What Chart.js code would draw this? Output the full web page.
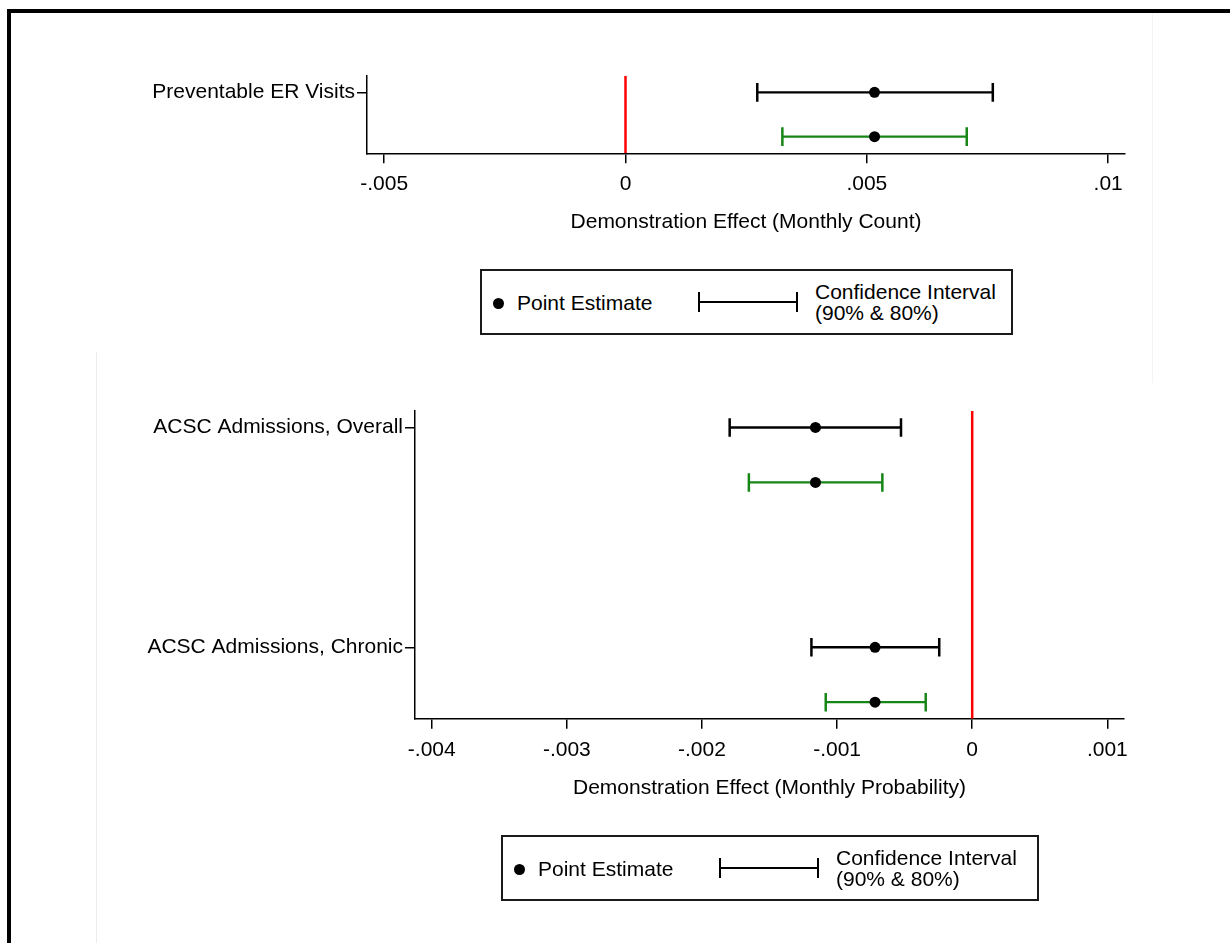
<!DOCTYPE html>
<html>
<head>
<meta charset="utf-8">
<script src="https://cdn.jsdelivr.net/npm/chart.js@4.4.1/dist/chart.umd.min.js"></script>
<style>
  html, body { margin: 0; padding: 0; background: #fff; }
  body { width: 1230px; height: 943px; position: relative; overflow: hidden;
         font-family: "Liberation Sans", Arial, sans-serif; color: #000; }
  canvas { position: absolute; left: 0; top: 0; }
  .frame { position: absolute; left: 7px; top: 9px; width: 1400px; height: 1100px;
           border-left: 4px solid #000; border-top: 4px solid #000; }
  .edge { position: absolute; width: 1px; }
  .legend { position: absolute; box-sizing: border-box; height: 66px;
            border: 2px solid #1a1a1a; background: #fff; font-size: 21px; }
  .legend .dot { position: absolute; left: 11px; top: 27px; width: 11px; height: 11px;
                 border-radius: 50%; background: #000; }
  .legend .pe { position: absolute; left: 35px; top: 1px; line-height: 62px; white-space: nowrap; }
  .legend .ci { position: absolute; left: 216px; top: 21px; width: 100px; height: 20px;
                box-sizing: border-box; border-left: 2px solid #000; border-right: 2px solid #000; }
  .legend .ci::after { content: ""; position: absolute; left: 0; right: 0; top: 9px; height: 2px; background: #000; }
  .legend .cit { position: absolute; left: 333px; top: 11px; line-height: 20.5px; white-space: nowrap; }
</style>
</head>
<body>
<div class="edge" style="left:1152px; top:13px; height:370px; background:#f3f3f3;"></div>
<div class="edge" style="left:96px; top:352px; height:591px; background:#ececec;"></div>

<canvas id="erChart" width="1230" height="943"></canvas>
<canvas id="acscChart" width="1230" height="943"></canvas>

<div class="legend" style="left:480px; top:269px; width:533px;">
  <span class="dot"></span><span class="pe">Point Estimate</span>
  <span class="ci"></span><span class="cit">Confidence Interval<br>(90% &amp; 80%)</span>
</div>
<div class="legend" style="left:501px; top:835px; width:538px;">
  <span class="dot"></span><span class="pe">Point Estimate</span>
  <span class="ci"></span><span class="cit">Confidence Interval<br>(90% &amp; 80%)</span>
</div>

<div class="frame"></div>

<script>
// ---- Preventable ER visits (monthly count) ----
const erOutcomes   = ['Preventable ER Visits'];
const erPoint      = [0.00516];
const erCI90Low    = [0.00273];
const erCI90High   = [0.00761];
const erCI80Low    = [0.00325];
const erCI80High   = [0.00707];
const erTicks      = [-0.005, 0, 0.005, 0.01];
const erTickLabels = ['-.005', '0', '.005', '.01'];

// ---- ACSC admissions (monthly probability) ----
const acscOutcomes   = ['ACSC Admissions, Overall', 'ACSC Admissions, Chronic'];
const acscPoint      = [-0.00116, -0.000719];
const acscCI90Low    = [-0.001795, -0.00119];
const acscCI90High   = [-0.000527, -0.000244];
const acscCI80Low    = [-0.001653, -0.001084];
const acscCI80High   = [-0.000665, -0.000344];
const acscTicks      = [-0.004, -0.003, -0.002, -0.001, 0, 0.001];
const acscTickLabels = ['-.004', '-.003', '-.002', '-.001', '0', '.001'];

const CI90_COLOR = '#000000';
const CI80_COLOR = '#168616';
const ZERO_COLOR = '#ff0000';
const FONT_SIZE = 21;

Chart.defaults.font.family = '"Liberation Sans", Arial, sans-serif';
Chart.defaults.font.size = FONT_SIZE;
Chart.defaults.color = '#000';

// Each outcome occupies a block of rows: 90% interval on its row, 80% interval one row below.
function buildDatasets(point, lo90, hi90, lo80, hi80, rowStep, yMin, yMax) {
  const sets = [];
  sets.push({
    data: point.map((v, i) => ({ x: v, y: i * rowStep })),
    pointStyle: 'circle', pointRadius: 5.5, pointBorderWidth: 0,
    backgroundColor: '#000', borderColor: '#000', showLine: false
  });
  sets.push({
    data: point.map((v, i) => ({ x: v, y: i * rowStep + 1 })),
    pointStyle: 'circle', pointRadius: 5.5, pointBorderWidth: 0,
    backgroundColor: '#000', borderColor: '#000', showLine: false
  });
  const ciStyle = (color) => ({
    showLine: true, borderColor: color, borderWidth: 2.3,
    pointStyle: 'line', pointRotation: 90, pointRadius: 9.3,
    pointBorderWidth: 2.5, pointBorderColor: color, backgroundColor: color
  });
  point.forEach((_, i) => {
    sets.push(Object.assign({
      data: [{ x: lo90[i], y: i * rowStep }, { x: hi90[i], y: i * rowStep }]
    }, ciStyle(CI90_COLOR)));
    sets.push(Object.assign({
      data: [{ x: lo80[i], y: i * rowStep + 1 }, { x: hi80[i], y: i * rowStep + 1 }]
    }, ciStyle(CI80_COLOR)));
  });
  // reference line at zero effect
  sets.push({
    data: [{ x: 0, y: yMin }, { x: 0, y: yMax }],
    showLine: true, borderColor: ZERO_COLOR, borderWidth: 2.5, pointRadius: 0
  });
  return sets;
}

function makeChart(id, cfg) {
  const rows = cfg.outcomes.map((_, i) => i * cfg.rowStep);
  return new Chart(document.getElementById(id), {
    type: 'scatter',
    data: {
      datasets: buildDatasets(cfg.point, cfg.lo90, cfg.hi90, cfg.lo80, cfg.hi80,
                              cfg.rowStep, cfg.yMin, cfg.yMax)
    },
    options: {
      responsive: false,
      animation: false,
      events: [],
      layout: { padding: cfg.padding },
      plugins: { legend: { display: false }, tooltip: { enabled: false } },
      scales: {
        x: {
          type: 'linear', position: 'bottom',
          min: cfg.xMin, max: cfg.xMax,
          afterBuildTicks: (s) => { s.ticks = cfg.ticks.map(v => ({ value: v })); },
          afterFit: (s) => { s.height = cfg.xHeight; },
          ticks: {
            autoSkip: false, maxRotation: 0, padding: 8.5,
            callback: (v, i) => cfg.tickLabels[i]
          },
          grid: { drawOnChartArea: false, drawTicks: true, tickLength: 10,
                  color: '#000', lineWidth: 1.5 },
          border: { display: true, color: '#000', width: 1.5 },
          title: { display: true, text: cfg.xTitle, padding: { top: 0, bottom: 0 },
                   font: { size: FONT_SIZE } }
        },
        y: {
          type: 'linear', position: 'left', reverse: true,
          min: cfg.yMin, max: cfg.yMax,
          afterBuildTicks: (s) => { s.ticks = rows.map(v => ({ value: v })); },
          afterFit: (s) => { s.width = cfg.yWidth; },
          ticks: { autoSkip: false, padding: 2, callback: (v, i) => cfg.outcomes[i] },
          grid: { drawOnChartArea: false, drawTicks: true, tickLength: 10,
                  color: '#000', lineWidth: 1.5 },
          border: { display: true, color: '#000', width: 1.5 }
        }
      }
    }
  });
}

makeChart('erChart', {
  outcomes: erOutcomes, point: erPoint,
  lo90: erCI90Low, hi90: erCI90High, lo80: erCI80Low, hi80: erCI80High,
  ticks: erTicks, tickLabels: erTickLabels,
  xTitle: 'Demonstration Effect (Monthly Count)',
  rowStep: 4, yMin: -0.375, yMax: 1.375,
  xMin: -0.005356, xMax: 0.010349,
  yWidth: 367, xHeight: 82,
  padding: { top: 75.7, left: 0, right: 105, bottom: 707.7 }
});

makeChart('acscChart', {
  outcomes: acscOutcomes, point: acscPoint,
  lo90: acscCI90Low, hi90: acscCI90High, lo80: acscCI80Low, hi80: acscCI80High,
  ticks: acscTicks, tickLabels: acscTickLabels,
  xTitle: 'Demonstration Effect (Monthly Probability)',
  rowStep: 4, yMin: -0.3, yMax: 5.3,
  xMin: -0.004124, xMax: 0.0011235,
  yWidth: 415, xHeight: 82,
  padding: { top: 411, left: 0, right: 106, bottom: 142.3 }
});
</script>
</body>
</html>
